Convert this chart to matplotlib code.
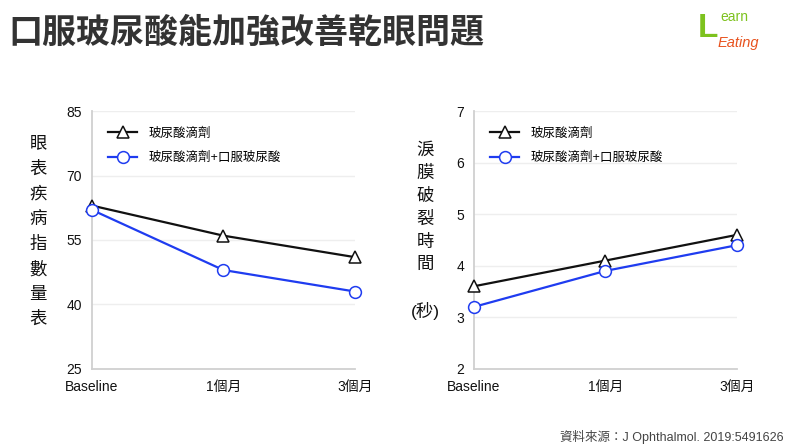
import matplotlib
matplotlib.use("Agg")
import matplotlib.pyplot as plt

plt.rcParams['font.family'] = ['Liberation Sans', 'Noto Sans CJK TC']

# data
timepoints = ['Baseline', '1個月', '3個月']
series_names = ['玻尿酸滴劑', '玻尿酸滴劑+口服玻尿酸']
osdi_drops = [63, 56, 51]
osdi_combo = [62, 48, 43]
tbut_drops = [3.6, 4.1, 4.6]
tbut_combo = [3.2, 3.9, 4.4]
osdi_ticks = [25, 40, 55, 70, 85]
tbut_ticks = [2, 3, 4, 5, 6, 7]

BLACK = '#111111'
BLUE = '#1f3cf0'
GRID = '#eeeeee'
SPINE = '#d0d0d0'

fig = plt.figure(figsize=(7.92, 4.46), dpi=100)


def draw_panel(rect, drops, combo, yticks, ylabel_lines, label_x, label_y, spacing):
  ax = fig.add_axes(rect)
  x = range(len(timepoints))
  ax.plot(x, drops, color=BLACK, lw=1.6, marker='^', ms=8.5, mfc='white', mec=BLACK,
          mew=1.1, label=series_names[0], clip_on=False, zorder=3)
  ax.plot(x, combo, color=BLUE, lw=1.6, marker='o', ms=8.5, mfc='white', mec=BLUE,
          mew=1.1, label=series_names[1], clip_on=False, zorder=3)
  ax.set_xlim(0, len(timepoints) - 1)
  ax.set_ylim(yticks[0], yticks[-1])
  ax.set_yticks(yticks)
  ax.set_xticks(list(x))
  ax.set_xticklabels(timepoints)
  ax.grid(axis='y', color=GRID, lw=1)
  ax.set_axisbelow(True)
  for s in ['top', 'right']:
    ax.spines[s].set_visible(False)
  for s in ['left', 'bottom']:
    ax.spines[s].set_color(SPINE)
    ax.spines[s].set_linewidth(1.3)
  ax.tick_params(axis='both', length=0, labelsize=10, colors='#111111')
  ax.tick_params(axis='y', pad=7)
  ax.tick_params(axis='x', pad=8)
  ax.legend(loc='upper left', bbox_to_anchor=(0.02, 0.98), frameon=False, fontsize=9,
            handlelength=2.3, labelspacing=0.95, handletextpad=0.9)
  fig.text(label_x, label_y, '\n'.join(ylabel_lines), ha='center', va='center',
           fontsize=12.5, linespacing=spacing, color='#111111')
  return ax


draw_panel([0.116, 0.173, 0.332, 0.578], osdi_drops, osdi_combo, osdi_ticks,
           list('眼表疾病指數量表'), 0.048, 0.481, 1.72)
draw_panel([0.598, 0.173, 0.333, 0.578], tbut_drops, tbut_combo, tbut_ticks,
           list('淚膜破裂時間') + ['', '(秒)'], 0.537, 0.483, 1.55)

fig.text(0.011, 0.925, '口服玻尿酸能加強改善乾眼問題', fontsize=24.5, fontweight='bold',
         color='#333333', ha='left', va='center')

# logo
fig.text(0.881, 0.937, 'L', fontsize=24, color='#7dc21e', fontweight='bold', ha='left', va='center')
fig.text(0.909, 0.962, 'earn', fontsize=10, color='#7dc21e', ha='left', va='center')
fig.text(0.906, 0.903, 'Eating', fontsize=10.5, color='#e8521e', style='italic', ha='left', va='center')

fig.text(0.99, 0.02, '資料來源：J Ophthalmol. 2019:5491626', fontsize=9, color='#444444',
         ha='right', va='center')

fig.savefig('out.png', dpi=100)
